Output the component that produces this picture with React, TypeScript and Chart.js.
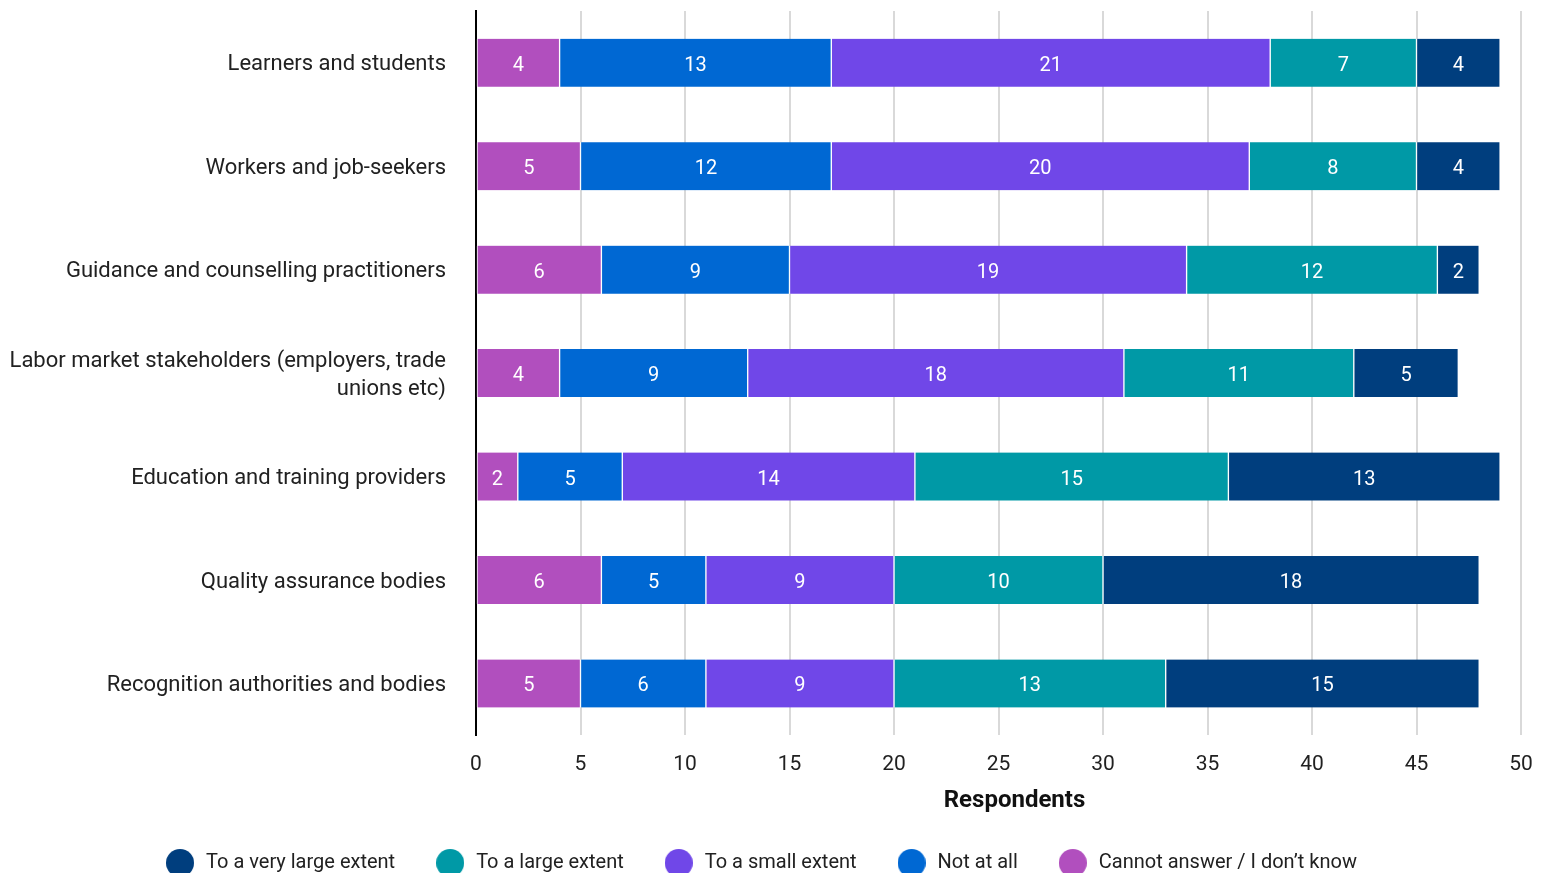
import React, { useEffect, useRef } from 'react';
import { Chart, registerables } from 'chart.js';

Chart.register(...registerables);

const categories: (string | string[])[] = [
  'Learners and students',
  'Workers and job-seekers',
  'Guidance and counselling practitioners',
  ['Labor market stakeholders (employers, trade', 'unions etc)'],
  'Education and training providers',
  'Quality assurance bodies',
  'Recognition authorities and bodies',
];

const seriesNames = [
  'Cannot answer / I don’t know',
  'Not at all',
  'To a small extent',
  'To a large extent',
  'To a very large extent',
];

const seriesColors = ['#B14FBE', '#0068D3', '#7047E8', '#0099A6', '#003E7E'];

const cannotAnswer = [4, 5, 6, 4, 2, 6, 5];
const notAtAll = [13, 12, 9, 9, 5, 5, 6];
const smallExtent = [21, 20, 19, 18, 14, 9, 9];
const largeExtent = [7, 8, 12, 11, 15, 10, 13];
const veryLargeExtent = [4, 4, 2, 5, 13, 18, 15];

const xMin = 0;
const xMax = 50;
const xStep = 5;
const axisTitle = 'Respondents';

const FONT = 'Roboto';
const TEXT = '#212121';

function makeDot(color: string, size: number): HTMLCanvasElement {
  const c = document.createElement('canvas');
  c.width = size;
  c.height = size;
  const g = c.getContext('2d')!;
  g.fillStyle = color;
  g.beginPath();
  g.arc(size / 2, size / 2, size / 2, 0, Math.PI * 2);
  g.fill();
  return c;
}

const valueLabels = {
  id: 'valueLabels',
  afterDatasetsDraw(chart: any) {
    const ctx = chart.ctx;
    ctx.save();
    ctx.font = `20px ${FONT}`;
    ctx.fillStyle = '#ffffff';
    ctx.textAlign = 'center';
    ctx.textBaseline = 'middle';
    chart.data.datasets.forEach((ds: any, i: number) => {
      const meta = chart.getDatasetMeta(i);
      meta.data.forEach((el: any, j: number) => {
        const p = el.getProps(['x', 'y', 'base'], true);
        ctx.fillText(String(ds.data[j]), (p.x + p.base) / 2, p.y + 3);
      });
    });
    ctx.restore();
  },
};

const axisTitlePlugin = {
  id: 'axisTitlePlugin',
  afterDraw(chart: any) {
    const { ctx, chartArea } = chart;
    ctx.save();
    ctx.font = `bold 24px ${FONT}`;
    ctx.fillStyle = '#111111';
    ctx.textAlign = 'center';
    ctx.textBaseline = 'middle';
    ctx.fillText(axisTitle, (chartArea.left + chartArea.right) / 2 + 16, chartArea.bottom + 66);
    ctx.restore();
  },
};

export default function App() {
  const ref = useRef<HTMLCanvasElement | null>(null);

  useEffect(() => {
    if (!ref.current) return;
    const seriesData = [cannotAnswer, notAtAll, smallExtent, largeExtent, veryLargeExtent];
    const datasets = seriesData.map((d, i) => ({
      label: seriesNames[i],
      data: d,
      backgroundColor: seriesColors[i],
      borderColor: '#ffffff',
      borderWidth: { left: 1, right: 1, top: 0, bottom: 0 },
      borderSkipped: false,
      barThickness: 48,
    }));

    const chart = new Chart(ref.current, {
      type: 'bar',
      data: { labels: categories, datasets },
      plugins: [valueLabels, axisTitlePlugin],
      options: {
        indexAxis: 'y',
        animation: false,
        responsive: true,
        maintainAspectRatio: false,
        layout: { padding: { top: 11, right: 22, left: 0, bottom: 0 } },
        scales: {
          x: {
            stacked: true,
            min: xMin,
            max: xMax,
            ticks: {
              stepSize: xStep,
              font: { family: FONT, size: 21 },
              color: TEXT,
              padding: 17,
            },
            grid: { color: '#d9d9d9', lineWidth: 2, drawTicks: false },
            border: { display: false },
            title: { display: false },
            afterFit(scale: any) {
              scale.paddingLeft = 0;
              scale.paddingRight = 0;
              scale.height += 19.6;
            },
          },
          y: {
            stacked: true,
            grid: { display: false, drawTicks: false },
            border: { display: true, color: '#000', width: 2 },
            ticks: {
              font: { family: FONT, size: 22, lineHeight: 1.27 },
              color: TEXT,
              padding: 30,
              labelOffset: 2,
            },
            afterFit(scale: any) {
              scale.width = 476;
              scale.paddingTop = 0;
              scale.paddingBottom = 0;
            },
          },
        },
        plugins: {
          tooltip: { enabled: false },
          legend: {
            position: 'bottom',
            reverse: true,
            labels: {
              usePointStyle: true,
              pointStyleWidth: 32,
              boxHeight: 20,
              padding: 39,
              color: TEXT,
              font: { family: FONT, size: 20 },
              generateLabels(chart: any) {
                const items = Chart.defaults.plugins.legend.labels.generateLabels(chart);
                return items.map((it: any) => ({
                  ...it,
                  pointStyle: makeDot(seriesColors[it.datasetIndex], 28),
                  lineWidth: 0,
                  strokeStyle: 'rgba(0,0,0,0)',
                }));
              },
            },
          },
        },
      } as any,
    });
    return () => chart.destroy();
  }, []);

  return (
    <div style={{ position: 'absolute', left: 0, top: 0, width: '1543px', height: '883px' }}>
      <canvas ref={ref} />
    </div>
  );
}
